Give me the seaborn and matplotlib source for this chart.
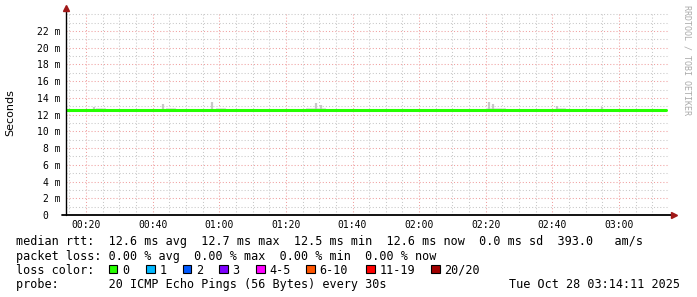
import matplotlib
matplotlib.use("Agg")
import matplotlib.pyplot as plt
import seaborn as sns
import pandas as pd
from matplotlib.patches import Rectangle
from matplotlib.ticker import FixedLocator, MultipleLocator

# ---------------- data (minutes after 00:00, values in ms) ----------------
times = [14, 17, 20, 23, 26, 29, 32, 35, 38, 41, 44, 47, 50, 53, 56, 59, 62, 65, 68, 71,
         74, 77, 80, 83, 86, 89, 92, 95, 98, 101, 104, 107, 110, 113, 116, 119, 122, 125, 128, 131,
         134, 137, 140, 143, 146, 149, 152, 155, 158, 161, 164, 167, 170, 173, 176, 179, 182, 185, 188, 191,
         194]
median = [12.55, 12.55, 12.55, 12.58, 12.55, 12.55, 12.55, 12.55, 12.55, 12.55, 12.55, 12.55, 12.52, 12.55, 12.55, 12.55, 12.55, 12.55, 12.55, 12.55,
          12.55, 12.55, 12.52, 12.55, 12.55, 12.55, 12.55, 12.55, 12.55, 12.55, 12.55, 12.55, 12.52, 12.55, 12.55, 12.55, 12.55, 12.55, 12.55, 12.55,
          12.55, 12.55, 12.55, 12.55, 12.55, 12.55, 12.58, 12.55, 12.55, 12.55, 12.55, 12.55, 12.52, 12.55, 12.55, 12.55, 12.55, 12.55, 12.55, 12.55,
          12.55]
smoke_hi = [12.70, 12.72, 12.70, 12.75, 12.70, 12.65, 12.70, 12.65, 12.70, 12.72, 12.75, 12.70, 12.65, 12.70, 12.72, 12.75, 12.70, 12.65, 12.70, 12.65,
            12.70, 12.72, 12.65, 12.70, 12.75, 12.75, 12.72, 12.70, 12.65, 12.70, 12.72, 12.70, 12.65, 12.70, 12.65, 12.70, 12.72, 12.70, 12.65, 12.70,
            12.72, 12.70, 12.75, 12.75, 12.70, 12.65, 12.72, 12.70, 12.70, 12.75, 12.70, 12.65, 12.70, 12.72, 12.70, 12.70, 12.65, 12.70, 12.72, 12.70,
            12.65]
smoke_lo = [12.45, 12.45, 12.45, 12.45, 12.45, 12.45, 12.45, 12.45, 12.45, 12.45, 12.45, 12.45, 12.40, 12.45, 12.45, 12.45, 12.45, 12.45, 12.45, 12.45,
            12.45, 12.45, 12.40, 12.45, 12.45, 12.45, 12.45, 12.45, 12.45, 12.45, 12.45, 12.45, 12.40, 12.45, 12.45, 12.45, 12.45, 12.45, 12.45, 12.45,
            12.45, 12.45, 12.45, 12.45, 12.45, 12.45, 12.45, 12.45, 12.45, 12.45, 12.45, 12.45, 12.40, 12.45, 12.45, 12.45, 12.45, 12.45, 12.45, 12.45,
            12.45]
spike_times = [22.5, 43.0, 57.8, 89.0, 90.5, 141.0, 142.2, 161.4, 175.0]
spike_tops = [12.90, 13.30, 13.45, 13.40, 13.20, 13.50, 13.30, 13.05, 12.95]

ytick_vals = [0, 2, 4, 6, 8, 10, 12, 14, 16, 18, 20, 22]
ytick_labels = ["0  ", "2 m", "4 m", "6 m", "8 m", "10 m", "12 m", "14 m", "16 m", "18 m", "20 m", "22 m"]
xtick_vals = [20, 40, 60, 80, 100, 120, 140, 160, 180]
xtick_labels = ["00:20", "00:40", "01:00", "01:20", "01:40", "02:00", "02:20", "02:40", "03:00"]

loss_labels = ["0", "1", "2", "3", "4-5", "6-10", "11-19", "20/20"]
loss_colors = ["#26ff00", "#00b8ff", "#0059ff", "#7e00ff", "#ff00ff", "#ff5500", "#ff0000", "#a10000"]

rtt_line = "median rtt:  12.6 ms avg  12.7 ms max  12.5 ms min  12.6 ms now  0.0 ms sd  393.0   am/s"
loss_line = "packet loss: 0.00 % avg  0.00 % max  0.00 % min  0.00 % now"
probe_line = "probe:       20 ICMP Echo Pings (56 Bytes) every 30s"
stamp = "Tue Oct 28 03:14:11 2025"

# ---------------- figure ----------------
W, H = 697, 297
sns.set_theme(style="white")
plt.rcParams["font.family"] = ["DejaVu Sans Mono", "DejaVu Sans"]

fig = plt.figure(figsize=(W / 100, H / 100), dpi=100, facecolor="white")
ax = fig.add_axes([66 / W, (H - 215) / H, (669 - 66) / W, (215 - 13) / H])
ax.set_facecolor("white")

df = pd.DataFrame({"t": times, "median": median, "hi": smoke_hi, "lo": smoke_lo})

ax.fill_between(df["t"], df["lo"], df["hi"], step="post", color="#e2e2e2", lw=0, zorder=2)
ax.vlines(spike_times, 12.55, spike_tops, colors="#c8c8c8", lw=1.6, zorder=2)
sns.lineplot(data=df, x="t", y="median", drawstyle="steps-post", color="#26ff00",
             lw=2.2, ax=ax, zorder=3)

ax.set_xlim(14.0, 195.0)
ax.set_ylim(0, 24.15)

ax.xaxis.set_major_locator(FixedLocator(xtick_vals))
ax.xaxis.set_minor_locator(MultipleLocator(5))
ax.yaxis.set_major_locator(FixedLocator(ytick_vals))
ax.yaxis.set_minor_locator(MultipleLocator(1))
ax.set_xticklabels(xtick_labels)
ax.set_yticklabels(ytick_labels)

ax.grid(which="minor", color="#c8c8c8", linestyle=(0, (1, 2)), lw=0.75)
ax.grid(which="major", color="#f0a0a0", linestyle=(0, (1, 2)), lw=0.75)
ax.set_axisbelow(True)

ax.tick_params(axis="both", which="both", length=0, labelsize=7, colors="black")
ax.tick_params(axis="y", pad=4.2)
ax.tick_params(axis="x", pad=3.5)
ax.set_xlabel("")
ax.set_ylabel("")
for s in ax.spines.values():
    s.set_visible(False)

# axis lines with arrows
aw, ah = 603.0, 202.0
ax.plot([-4 / aw, 1 + 4 / aw], [0, 0], transform=ax.transAxes, color="black", lw=1.3,
        clip_on=False, zorder=5)
ax.plot([0, 0], [0, 1 + 4 / ah], transform=ax.transAxes, color="black", lw=1.0,
        clip_on=False, zorder=5)
ax.plot([1 + 5 / aw], [0], transform=ax.transAxes, marker=">", ms=5, color="#a01818",
        clip_on=False, zorder=6)
ax.plot([0], [1 + 5 / ah], transform=ax.transAxes, marker="^", ms=5, color="#a01818",
        clip_on=False, zorder=6)

# y label and watermark
fig.text(10 / W, 1 - 113 / H, "Seconds", rotation=90, ha="center", va="center",
         fontsize=8, family="DejaVu Sans", color="black")
fig.text(687 / W, 1 - 5 / H, "RRDTOOL / TOBI OETIKER", rotation=-90, ha="center", va="top",
         fontsize=6.0, color="#aaaaaa")

# legend text
fs = 8.5


def put(x, y, s):
    fig.text(x / W, 1 - y / H, s, ha="left", va="baseline", fontsize=fs, color="black")


b1, b2, b3, b4 = 245.5, 259.7, 273.9, 288.0
put(16, b1, rtt_line)
put(16, b2, loss_line)
put(16, b3, "loss color:")
sq_x = [108.5, 146, 182.5, 219, 256, 306, 366, 431]
for xx, lab, col in zip(sq_x, loss_labels, loss_colors):
    fig.add_artist(Rectangle((xx / W, 1 - 273 / H), 8.5 / W, 8.5 / H, transform=fig.transFigure,
                             facecolor=col, edgecolor="black", lw=0.8))
    put(xx + 13.5, b3, lab)
put(16, b4, probe_line)
put(509, b4, stamp)

fig.savefig("out.png", dpi=100, facecolor="white")
